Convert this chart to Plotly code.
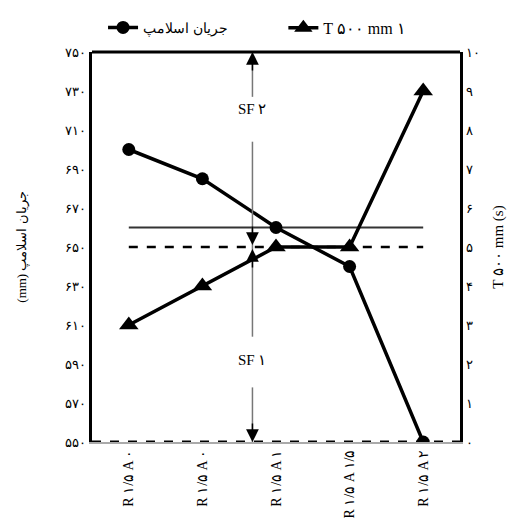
import plotly.graph_objects as go

categories = ["R ۱/۵ A ۰", "R ۱/۵ A ۰", "R ۱/۵ A ۱", "R ۱/۵ A ۱/۵", "R ۱/۵ A ۲"]
x_index = [0, 1, 2, 3, 4]
slump = [700, 685, 660, 640, 550]
t500 = [3, 4, 5, 5, 9]
left_ticks = [550, 570, 590, 610, 630, 650, 670, 690, 710, 730, 750]
left_ticklabels = ["۵۵۰", "۵۷۰", "۵۹۰", "۶۱۰", "۶۳۰", "۶۵۰", "۶۷۰", "۶۹۰", "۷۱۰", "۷۳۰", "۷۵۰"]
right_ticks = [0, 1, 2, 3, 4, 5, 6, 7, 8, 9, 10]
right_ticklabels = ["۰", "۱", "۲", "۳", "۴", "۵", "۶", "۷", "۸", "۹", "۱۰"]
limit_solid = 660
limit_dashed = 650
limit_bottom = 550
sf_x = 1.68
sf_bounds = [550, 650, 750]

serif = "Liberation Serif, DejaVu Serif, serif"

fig = go.Figure()
fig.add_trace(go.Scatter(
    x=x_index, y=slump, name="جریان اسلامپ", mode="lines+markers",
    line=dict(color="black", width=3.5),
    marker=dict(symbol="circle", size=13, color="black"),
    yaxis="y", legend="legend"))
fig.add_trace(go.Scatter(
    x=x_index, y=t500, name="T ۵۰۰ mm ۱", mode="lines+markers",
    line=dict(color="black", width=3.5),
    marker=dict(symbol="triangle-up", size=17, color="black"),
    yaxis="y2", legend="legend2"))

# reference lines
fig.add_shape(type="line", x0=x_index[0], x1=x_index[-1], y0=limit_solid, y1=limit_solid,
              xref="x", yref="y", line=dict(color="#333", width=2), layer="below")
fig.add_shape(type="line", x0=x_index[0], x1=x_index[-1], y0=limit_dashed, y1=limit_dashed,
              xref="x", yref="y", line=dict(color="black", width=2.5, dash="dash"), layer="below")
fig.add_shape(type="line", x0=-0.5, x1=4.5, y0=limit_bottom, y1=limit_bottom,
              xref="x", yref="y", line=dict(color="black", width=3, dash="dash"), layer="above")

# SF vertical shafts (grey)
lo, mid, hi = sf_bounds
shafts = [(hi, hi - 23), (hi - 46, mid), (mid, mid - 46), (lo + 28, lo)]
for a, b in shafts:
    fig.add_shape(type="line", x0=sf_x, x1=sf_x, y0=a, y1=b, xref="x", yref="y",
                  line=dict(color="#777", width=1.5))

# arrowheads
for y, ay in [(hi, 20), (mid + 1, -20), (mid - 1, 20), (lo, -20)]:
    fig.add_annotation(x=sf_x, y=y, xref="x", yref="y", ax=0, ay=ay, text="",
                       showarrow=True, arrowhead=2, arrowsize=1.7, arrowwidth=1.5,
                       arrowcolor="black", standoff=0)

fig.add_annotation(x=sf_x, y=hi - 29, xref="x", yref="y", text="SF ۲", showarrow=False,
                   font=dict(family=serif, size=15, color="black"))
fig.add_annotation(x=sf_x, y=lo + 42, xref="x", yref="y", text="SF ۱", showarrow=False,
                   font=dict(family=serif, size=15, color="black"))

legend_common = dict(orientation="h", y=1.062, xanchor="left", yanchor="middle",
                     bgcolor="rgba(0,0,0,0)")

fig.update_layout(
    width=523, height=517,
    margin=dict(l=84, r=71, t=44, b=83, autoexpand=False),
    paper_bgcolor="white", plot_bgcolor="white",
    font=dict(family=serif, size=13, color="black"),
    showlegend=True,
    legend=dict(x=0.03, font=dict(family=serif, size=14), **legend_common),
    legend2=dict(x=0.52, font=dict(family=serif, size=16), **legend_common),
    xaxis=dict(range=[-0.5, 4.5], tickmode="array", tickvals=x_index, ticktext=categories,
               tickangle=-90, showgrid=False, zeroline=False, showline=True, automargin=False,
               linecolor="#aaa", linewidth=2, ticks="", tickfont=dict(family=serif, size=14)),
    yaxis=dict(range=[550, 750], tickmode="array", tickvals=left_ticks, ticktext=left_ticklabels,
               showgrid=False, zeroline=False, showline=True, linecolor="black", linewidth=3,
               ticks="", tickfont=dict(size=13), automargin=False,
               title=dict(text="(mm) جریان اسلامپ", font=dict(size=13), standoff=36)),
    yaxis2=dict(range=[0, 10], tickmode="array", tickvals=right_ticks, ticktext=right_ticklabels,
                overlaying="y", side="right", showgrid=False, zeroline=False, showline=True,
                linecolor="black", linewidth=3, ticks="", tickfont=dict(size=13), automargin=False,
                title=dict(text="T ۵۰۰ mm (s)", font=dict(size=15), standoff=14)),
)
# top border
fig.add_shape(type="line", x0=0, x1=1, y0=1, y1=1, xref="paper", yref="paper",
              line=dict(color="black", width=3))

fig.write_html("out.html")
